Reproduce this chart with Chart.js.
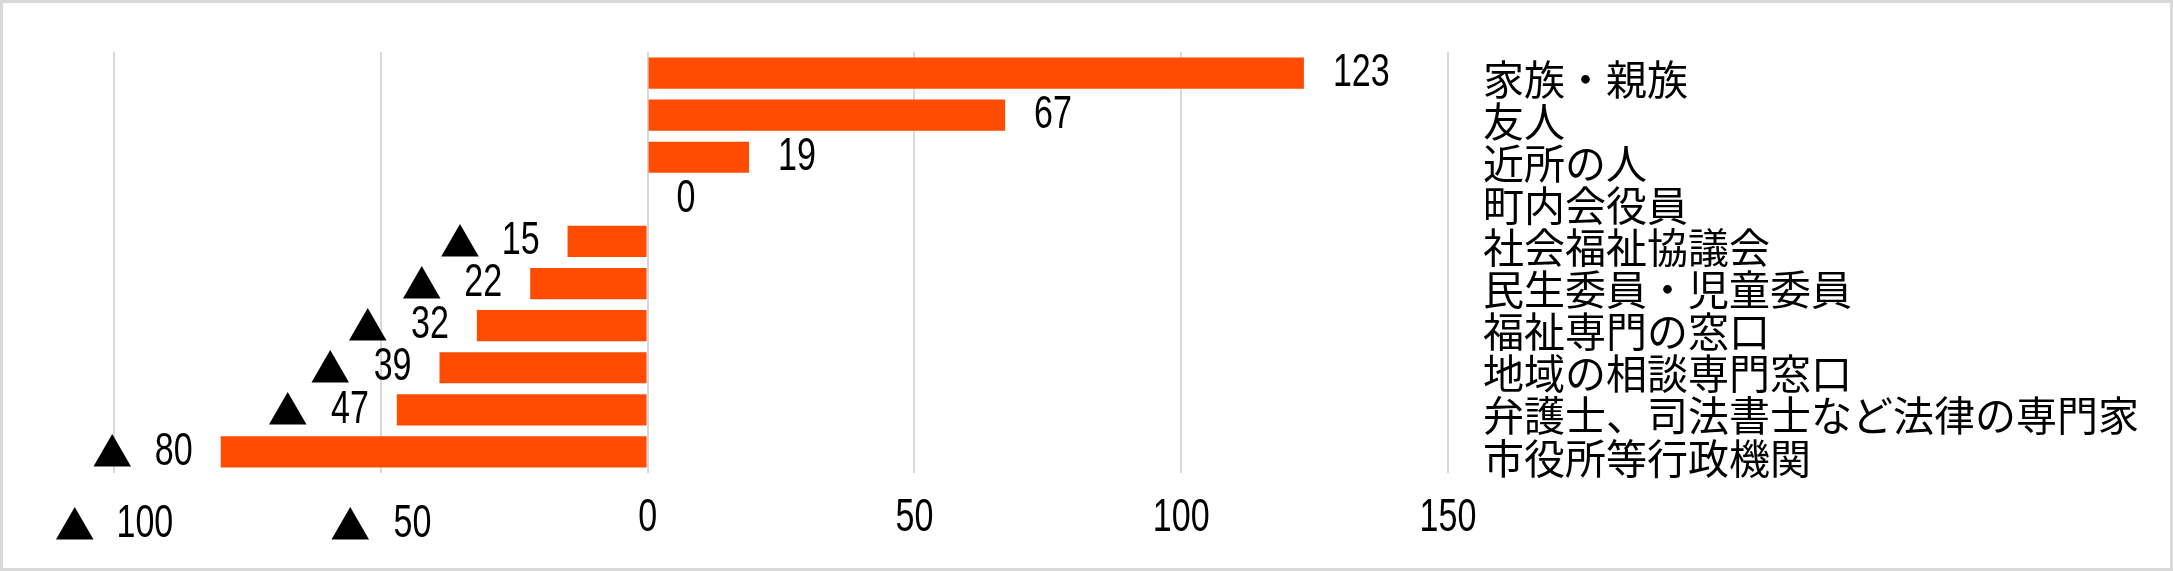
<!DOCTYPE html>
<html>
<head>
<meta charset="utf-8">
<script src="https://cdn.jsdelivr.net/npm/chart.js@4.4.1/dist/chart.umd.min.js"></script>
<style>
  html, body { margin: 0; padding: 0; background: #fff; }
  #wrap { width: 2173px; height: 571px; box-sizing: border-box; border: 3px solid #d9d9d9; }
  canvas { display: block; }
</style>
</head>
<body>
<div id="wrap"><canvas id="chart" width="2167" height="565"></canvas></div>
<script>
// categories (top to bottom) and counts; negatives are shown with ▲
const categories = [
    '家族・親族',
    '友人',
    '近所の人',
    '町内会役員',
    '社会福祉協議会',
    '民生委員・児童委員',
    '福祉専門の窓口',
    '地域の相談専門窓口',
    '弁護士、司法書士など法律の専門家',
    '市役所等行政機関'
];
const values = [123, 67, 19, 0, -15, -22, -32, -39, -47, -80];
const tickValues = [-100, -50, 0, 50, 100, 150];
const tickLabels = ['▲ 100', '▲ 50', '0', '50', '100', '150'];

const jpFont = '"Noto Sans CJK JP", sans-serif';
const numFontStr = '46px "Liberation Sans", sans-serif';
const triFontStr = '40px "Noto Sans CJK JP", sans-serif';
const COND = 0.74;   // the numbers in the original are a narrow face
const TRI_GAP = 25;

function fmt(v) {
    return v < 0 ? '▲ ' + (-v) : String(v);
}

// draws "▲ 15" style text: normal triangle, squeezed digits
function drawNum(ctx, text, x, y, align) {
    const hasTri = text.startsWith('▲');
    const num = hasTri ? text.replace('▲', '').trim() : text;
    ctx.textAlign = 'left';
    ctx.textBaseline = 'middle';
    ctx.font = numFontStr;
    const nm = ctx.measureText(num);
    let p = 0;
    if (hasTri) {
        ctx.font = triFontStr;
        const tm = ctx.measureText('▲');
        p = tm.actualBoundingBoxRight + TRI_GAP + nm.actualBoundingBoxLeft * COND;
    }
    const end = p + nm.width * COND;
    let ox = x;
    if (align === 'right') ox = x - end;
    else if (align === 'center') ox = x - end / 2;
    if (hasTri) {
        ctx.font = triFontStr;
        ctx.fillText('▲', ox, y);
    }
    ctx.save();
    ctx.translate(ox + p, y);
    ctx.scale(COND, 1);
    ctx.font = numFontStr;
    ctx.fillText(num, 0, 0);
    ctx.restore();
}

// value labels next to each bar
const valueLabels = {
    id: 'valueLabels',
    beforeDraw(chart) {
        // x tick labels: keep the axis' own positions, draw them squeezed
        chart.scales.x.drawLabels = function (chartArea) {
            const items = this.getLabelItems(chartArea);
            const c = this.ctx;
            c.save();
            c.fillStyle = '#000';
            items.forEach(it => {
                const [x, y] = it.options.translation;
                const dy = it.label.startsWith('▲') ? 6 : 0;
                drawNum(c, it.label, x, y + it.textOffset + dy, 'center');
            });
            c.restore();
        };
    },
    afterDatasetsDraw(chart) {
        const ctx = chart.ctx;
        const meta = chart.getDatasetMeta(0);
        ctx.save();
        ctx.fillStyle = '#000';
        meta.data.forEach((bar, i) => {
            const v = values[i];
            if (v >= 0) drawNum(ctx, fmt(v), bar.x + 29, bar.y, 'left');
            else drawNum(ctx, fmt(v), bar.x - 28, bar.y, 'right');
        });
        ctx.restore();
    }
};

const ctx = document.getElementById('chart').getContext('2d');
new Chart(ctx, {
    type: 'bar',
    data: {
        labels: categories,
        datasets: [{
            data: values,
            backgroundColor: '#ff4c00',
            borderWidth: 0,
            categoryPercentage: 1,
            barPercentage: 0.74
        }]
    },
    options: {
        indexAxis: 'y',
        responsive: false,
        animation: false,
        layout: { padding: { left: 111, top: 49, right: 0, bottom: 0 } },
        scales: {
            x: {
                min: -100,
                max: 150,
                afterBuildTicks: (scale) => {
                    scale.ticks = tickValues.map(v => ({ value: v }));
                },
                afterFit: (scale) => { scale.height = 95; },
                grid: { color: '#d9d9d9', lineWidth: 2, drawTicks: false },
                border: { display: false },
                ticks: {
                    padding: 18,
                    color: '#000',
                    font: { family: '"Liberation Sans", sans-serif', size: 46 },
                    callback: (value) => tickLabels[tickValues.indexOf(value)]
                }
            },
            y: {
                position: 'right',
                afterFit: (scale) => {
                    scale.width = 722;
                    scale.paddingTop = 0;
                    scale.paddingBottom = 0;
                },
                grid: { display: false, drawTicks: false },
                border: { display: false },
                ticks: {
                    autoSkip: false,
                    padding: 35,
                    labelOffset: 6,
                    color: '#000',
                    font: { family: jpFont, size: 41 }
                }
            }
        },
        plugins: {
            legend: { display: false },
            tooltip: { enabled: false }
        }
    },
    plugins: [valueLabels]
});
</script>
</body>
</html>
